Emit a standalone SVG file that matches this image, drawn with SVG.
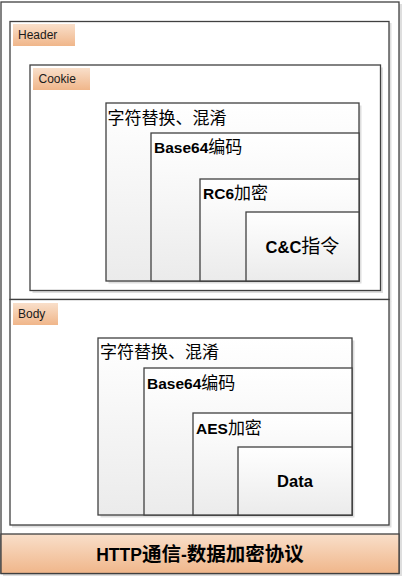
<svg xmlns="http://www.w3.org/2000/svg" width="402" height="577" viewBox="0 0 402 577">
<style>
.frame{fill:#ffffff;stroke:#404040;stroke-width:1.3}
.box{fill:url(#boxg);stroke:#404040;stroke-width:1.3}
.shadow{fill:#dedede}
.lab{fill:url(#labg)}
.labt{font-family:"Liberation Sans","Noto Sans CJK SC",sans-serif;font-size:12px;fill:#1a1a1a}
.cn{font-family:"Noto Sans CJK SC","Noto Sans CJK JP",sans-serif;font-size:17px;fill:#000}
.bt{font-family:"Liberation Sans","Noto Sans CJK SC",sans-serif;font-weight:bold;font-size:15.5px;fill:#000}
.bt tspan.c{font-family:"Noto Sans CJK SC",sans-serif;font-weight:normal;font-size:17px}
.big{font-size:16.5px}
.big tspan.c{font-size:19px}
.title{font-family:"Liberation Sans","Noto Sans CJK SC",sans-serif;font-weight:bold;font-size:17.5px;fill:#000}
.title tspan.c{font-family:"Noto Sans CJK SC",sans-serif;font-size:19.5px}
</style>
<defs>
<linearGradient id="boxg" x1="0" y1="0" x2="0" y2="1">
<stop offset="0" stop-color="#ffffff"/>
<stop offset="1" stop-color="#ebebeb"/>
</linearGradient>
<linearGradient id="labg" x1="0" y1="0" x2="0" y2="1">
<stop offset="0" stop-color="#f9dfca"/>
<stop offset="1" stop-color="#f0b68a"/>
</linearGradient>
</defs>

<g id="outer">
<rect class="shadow" x="3" y="4" width="399" height="572"/>
<rect class="frame" x="1" y="2" width="398" height="571.5"/>
</g>

<g id="header">
<rect class="shadow" x="12" y="23" width="379.5" height="279"/>
<rect class="frame" x="10" y="21.5" width="379" height="278"/>
<rect class="lab" x="13" y="24" width="62" height="22"/>
<text class="labt" x="18" y="39">Header</text>
</g>

<g id="cookie">
<rect class="shadow" x="32.5" y="67.5" width="350.5" height="225.5"/>
<rect class="frame" x="30" y="65" width="350.5" height="225.5"/>
<rect class="lab" x="33" y="68" width="57" height="22"/>
<text class="labt" x="38.5" y="83">Cookie</text>
</g>

<g id="cookie-obf">
<rect class="shadow" x="108.5" y="105.5" width="253" height="178"/>
<rect class="box" x="106" y="103" width="253" height="178"/>
<text class="cn" x="107.5" y="124">字符替换、混淆</text>
</g>
<g id="cookie-b64">
<rect class="box" x="151" y="133" width="208" height="148"/>
<text class="bt" x="154" y="153">Base64<tspan class="c">编码</tspan></text>
</g>
<g id="cookie-rc6">
<rect class="box" x="200" y="179" width="159" height="102"/>
<text class="bt" x="203" y="199">RC6<tspan class="c">加密</tspan></text>
</g>
<g id="cookie-cc">
<rect class="box" x="246" y="212" width="113" height="69"/>
<text class="bt big" x="302.5" y="253" text-anchor="middle">C&amp;C<tspan class="c">指令</tspan></text>
</g>

<g id="body">
<rect class="shadow" x="12" y="301.5" width="379.5" height="226"/>
<rect class="frame" x="10" y="299.5" width="379" height="225.5"/>
<rect class="lab" x="13" y="303" width="45" height="22"/>
<text class="labt" x="18" y="318">Body</text>
</g>

<g id="body-obf">
<rect class="shadow" x="100.5" y="340.5" width="254" height="177"/>
<rect class="box" x="98" y="338" width="254" height="177"/>
<text class="cn" x="100" y="358">字符替换、混淆</text>
</g>
<g id="body-b64">
<rect class="box" x="144" y="368" width="208" height="147"/>
<text class="bt" x="147" y="389">Base64<tspan class="c">编码</tspan></text>
</g>
<g id="body-aes">
<rect class="box" x="193" y="413" width="159" height="102"/>
<text class="bt" x="196" y="434">AES<tspan class="c">加密</tspan></text>
</g>
<g id="body-data">
<rect class="box" x="238" y="447" width="114" height="68"/>
<text class="bt big" x="295" y="487" text-anchor="middle">Data</text>
</g>

<g id="title">
<rect x="1" y="534" width="398" height="39.5" fill="url(#labg)" stroke="#404040" stroke-width="1.3"/>
<text class="title" x="200" y="560.5" text-anchor="middle">HTTP<tspan class="c">通信</tspan>-<tspan class="c">数据加密协议</tspan></text>
</g>

<g id="connectors"></g>
</svg>
